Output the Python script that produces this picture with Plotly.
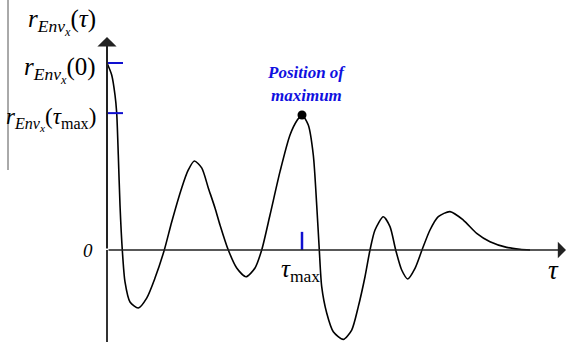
import plotly.graph_objects as go

W, H = 567, 342

# curve samples (tau, r)
tau = [0, 4.7, 8, 9.7, 11.3, 13, 15.3, 18, 23, 31.3, 39.7, 48, 57.3, 64.7, 74.7, 81.3,
       87.3, 94.7, 101.3, 108, 113, 121.3, 129.7, 139, 148, 154.7, 163, 173, 183, 190.3,
       195, 201.3, 206.3, 209.7, 212.3, 214.7, 219.7, 226.3, 236.3, 244.7, 251.3, 258,
       263, 268, 276.3, 283, 288.7, 294.7, 300.7, 308, 315, 323, 331.3, 343, 356.3,
       369.7, 383, 399.7, 413, 423]
r = [1.0, 0.936, 0.829, 0.733, 0.508, 0.241, 0.0, -0.171, -0.278, -0.310, -0.257,
     -0.150, 0.0, 0.150, 0.332, 0.428, 0.476, 0.439, 0.332, 0.225, 0.134, 0.0, -0.096,
     -0.143, -0.096, 0.0, 0.187, 0.419, 0.615, 0.695, 0.722, 0.668, 0.508, 0.241, 0.0,
     -0.196, -0.337, -0.437, -0.478, -0.428, -0.303, -0.143, 0.0, 0.107, 0.178, 0.125,
     0.0, -0.107, -0.155, -0.098, 0.0, 0.107, 0.178, 0.205, 0.160, 0.089, 0.044, 0.014,
     0.004, 0.0]

tau_max = 195
r_max = 0.722
r_zero = 1.0

# axis extents
x_lo, x_hi = -107, 460
y_lo, y_hi = (250 - 342) / 187, 250 / 187


def px(x):
    return x / W


def py(y):
    return 1 - y / H


fig = go.Figure()
fig.add_trace(go.Scatter(x=tau, y=r, mode="lines",
                         line=dict(color="black", width=1.6, shape="spline", smoothing=0.7),
                         hoverinfo="skip"))
fig.add_trace(go.Scatter(x=[tau_max], y=[r_max], mode="markers",
                         marker=dict(color="black", size=9), hoverinfo="skip"))

shapes = []
shapes.append(dict(type="line", xref="x", yref="y", x0=0, x1=16, y0=r_zero, y1=r_zero,
                   line=dict(color="#1010d0", width=2)))
shapes.append(dict(type="line", xref="x", yref="y", x0=0, x1=16, y0=r_max + 0.01, y1=r_max + 0.01,
                   line=dict(color="#1010d0", width=2)))
shapes.append(dict(type="line", xref="x", yref="y", x0=tau_max, x1=tau_max, y0=0, y1=0.097,
                   line=dict(color="#1010d0", width=2.5)))
# left border artifact
shapes.append(dict(type="line", xref="paper", yref="paper", x0=px(8), x1=px(8), y0=py(0), y1=py(170),
                   line=dict(color="#555", width=1)))
# y axis lower part
shapes.append(dict(type="line", xref="x", yref="y", x0=0, x1=0, y0=y_lo, y1=0,
                   line=dict(color="#333", width=2)))

annotations = []
annotations.append(dict(x=0, y=(250 - 37) / 187, ax=0, ay=0, xref="x", yref="y", axref="x", ayref="y",
                        showarrow=True, arrowhead=1, arrowsize=1.6, arrowwidth=2, arrowcolor="#222",
                        text=""))
annotations.append(dict(x=459, y=0, ax=0, ay=0, xref="x", yref="y", axref="x", ayref="y",
                        showarrow=True, arrowhead=1, arrowsize=1.7, arrowwidth=1.6, arrowcolor="#222",
                        text=""))

serif = "Liberation Serif, Times New Roman, serif"


def lbl(text, x, y, size, color="black", xanchor="center", yanchor="middle"):
    annotations.append(dict(text=text, x=px(x), y=py(y), xref="paper", yref="paper",
                            showarrow=False, xanchor=xanchor, yanchor=yanchor,
                            font=dict(family=serif, size=size, color=color)))


sub = "<sub><i>Env</i><sub><i>x</i></sub></sub>"
lbl("<i>r</i>" + sub + "(<i>τ</i>)", 98, 22, 25, xanchor="right")
lbl("<i>r</i>" + sub + "(0)", 98, 70, 25, xanchor="right")
lbl("<i>r</i>" + sub + "(<i>τ</i><sub>max</sub>)", 98, 119, 23, xanchor="right")
lbl("<i>0</i>", 88, 250, 19)
lbl("<i>τ</i><sub>max</sub>", 300, 270, 25)
lbl("<i>τ</i>", 553, 270, 27)
lbl("<b><i>Position of</i></b>", 306, 73, 17, color="#1010e0")
lbl("<b><i>maximum</i></b>", 306, 95, 17, color="#1010e0")

fig.update_layout(width=W, height=H, margin=dict(l=0, r=0, t=0, b=0),
                  paper_bgcolor="white", plot_bgcolor="white", showlegend=False,
                  xaxis=dict(range=[x_lo, x_hi], visible=False, fixedrange=True),
                  yaxis=dict(range=[y_lo, y_hi], visible=False, fixedrange=True),
                  shapes=shapes, annotations=annotations)
fig.write_html("out.html", config={"displayModeBar": False},
               post_script="document.body.style.margin='0';document.body.style.overflow='hidden';")
